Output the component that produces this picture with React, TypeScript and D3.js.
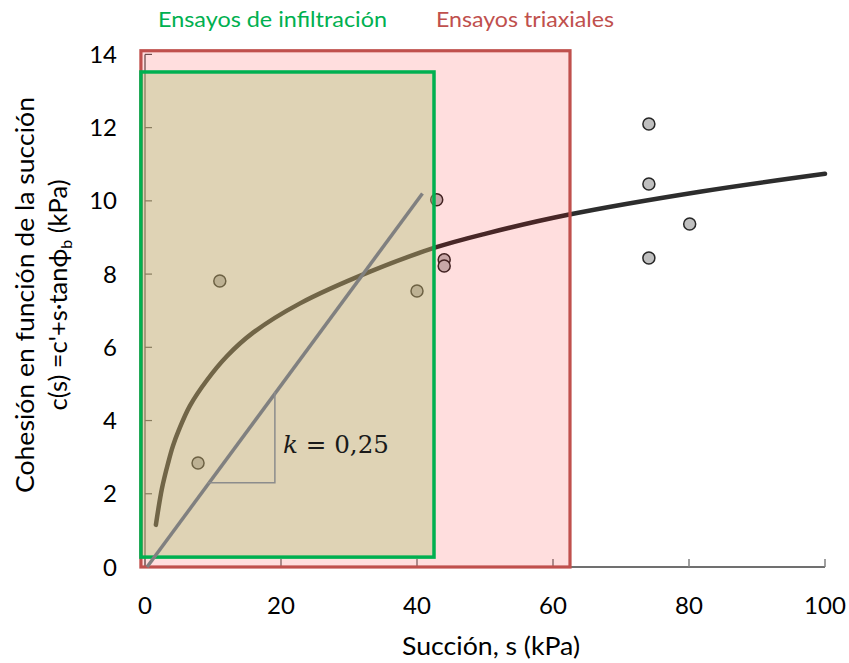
import React, { useEffect, useRef } from "react";
import * as d3 from "d3";

// ---- Data ----
const pointS = [7.8, 11.0, 40.0, 42.9, 44.0, 44.0, 74.1, 74.1, 74.1, 80.1];
const pointC = [2.84, 7.81, 7.54, 10.03, 8.39, 8.22, 12.1, 10.46, 8.44, 9.37];

const curveS = [1.6, 2.5, 3.4, 4.1, 5.0, 6.6, 9.1, 12, 15.9, 22.8, 33, 42.6, 50, 62.2, 81.6, 100];
const curveC = [1.15, 2.15, 2.84, 3.3, 3.75, 4.4, 5.1, 5.75, 6.4, 7.2, 8.06, 8.72, 9.1, 9.62, 10.25, 10.74];

const slopeS = [0.3, 40.8];
const slopeC = [0, 10.2];
const triangleS = [9.2, 19.1, 19.1];
const triangleC = [2.3, 2.3, 4.78];

const redBoxS = [-0.6, 62.5];
const redBoxC = [0, 14.1];
const greenBoxS = [-0.6, 42.5];
const greenBoxC = [0.27, 13.52];

const xTicks = [0, 20, 40, 60, 80, 100];
const yTicks = [0, 2, 4, 6, 8, 10, 12, 14];

const W = 849, H = 663;
const FONT = "Lato, 'Open Sans', sans-serif";

export default function App() {
  const ref = useRef<SVGSVGElement>(null);
  useEffect(() => {
    const svg = d3.select(ref.current);
    svg.selectAll("*").remove();
    const x = d3.scaleLinear().domain([0, 100]).range([145, 825]);
    const y = d3.scaleLinear().domain([0, 14]).range([567, 54.4]);

    // axes lines
    svg.append("line").attr("x1", x(0)).attr("x2", x(0)).attr("y1", y(0)).attr("y2", y(14))
      .attr("stroke", "#595959").attr("stroke-width", 1.3);
    svg.append("line").attr("x1", x(0)).attr("x2", x(100)).attr("y1", y(0)).attr("y2", y(0))
      .attr("stroke", "#404040").attr("stroke-width", 1.5);
    svg.selectAll(".yt").data(yTicks).enter().append("line")
      .attr("x1", x(0)).attr("x2", x(0) + 7).attr("y1", d => y(d)).attr("y2", d => y(d))
      .attr("stroke", "#595959").attr("stroke-width", 1.2);
    svg.selectAll(".xt").data(xTicks).enter().append("line")
      .attr("x1", d => x(d)).attr("x2", d => x(d)).attr("y1", y(0)).attr("y2", y(0) - 8)
      .attr("stroke", "#808080").attr("stroke-width", 1.5);

    // curve
    const curvePts = curveS.map((s, i) => [s, curveC[i]] as [number, number]);
    const line = d3.line<[number, number]>().x(d => x(d[0])).y(d => y(d[1])).curve(d3.curveCatmullRom.alpha(0.5));
    svg.append("path").attr("d", line(curvePts)).attr("fill", "none")
      .attr("stroke", "#2d2d2d").attr("stroke-width", 4.5).attr("stroke-linecap", "round");

    // points
    const pts = pointS.map((s, i) => [s, pointC[i]]);
    svg.selectAll(".pt").data(pts).enter().append("circle")
      .attr("cx", d => x(d[0])).attr("cy", d => y(d[1])).attr("r", 6)
      .attr("fill", "#BFBFBF").attr("stroke", "#262626").attr("stroke-width", 1.5);

    // boxes fills
    svg.append("rect").attr("x", x(redBoxS[0])).attr("y", y(redBoxC[1]))
      .attr("width", x(redBoxS[1]) - x(redBoxS[0])).attr("height", y(redBoxC[0]) - y(redBoxC[1]))
      .attr("fill", "rgb(255,0,0)").attr("fill-opacity", 0.13);
    svg.append("rect").attr("x", x(greenBoxS[0])).attr("y", y(greenBoxC[1]))
      .attr("width", x(greenBoxS[1]) - x(greenBoxS[0])).attr("height", y(greenBoxC[0]) - y(greenBoxC[1]))
      .attr("fill", "rgb(175,194,120)").attr("fill-opacity", 0.4);
    // box strokes
    svg.append("rect").attr("x", x(redBoxS[0])).attr("y", y(redBoxC[1]))
      .attr("width", x(redBoxS[1]) - x(redBoxS[0])).attr("height", y(redBoxC[0]) - y(redBoxC[1]))
      .attr("fill", "none").attr("stroke", "#C0504D").attr("stroke-width", 3.2);
    svg.append("rect").attr("x", x(greenBoxS[0])).attr("y", y(greenBoxC[1]))
      .attr("width", x(greenBoxS[1]) - x(greenBoxS[0])).attr("height", y(greenBoxC[0]) - y(greenBoxC[1]))
      .attr("fill", "none").attr("stroke", "#00B050").attr("stroke-width", 3.5);

    // slope line and triangle
    svg.append("line").attr("x1", x(slopeS[0])).attr("y1", y(slopeC[0]))
      .attr("x2", x(slopeS[1])).attr("y2", y(slopeC[1]))
      .attr("stroke", "#808080").attr("stroke-width", 3.5);
    const tri = triangleS.map((s, i) => [x(s), y(triangleC[i])]);
    svg.append("polyline").attr("points", tri.map(p => p.join(",")).join(" "))
      .attr("fill", "none").attr("stroke", "#8c8c8c").attr("stroke-width", 1.5);
    const kt = svg.append("text").attr("x", 283).attr("y", 453)
      .attr("font-family", "'DejaVu Serif', 'Liberation Serif', serif").attr("font-size", 25)
      .attr("fill", "#1a1a1a").attr("textLength", 106).attr("lengthAdjust", "spacingAndGlyphs");
    kt.append("tspan").attr("font-style", "italic").text("k");
    kt.append("tspan").text(" = 0,25");

    // tick labels
    svg.selectAll(".yl").data(yTicks).enter().append("text")
      .attr("x", 117).attr("y", d => y(d) + 8.5).attr("text-anchor", "end")
      .attr("font-family", FONT).attr("font-size", 24).attr("fill", "#000").text(d => String(d));
    svg.selectAll(".xl").data(xTicks).enter().append("text")
      .attr("x", d => x(d)).attr("y", 614).attr("text-anchor", "middle")
      .attr("font-family", FONT).attr("font-size", 24).attr("fill", "#000").text(d => String(d));

    // axis titles
    svg.append("text").attr("x", 491).attr("y", 655).attr("text-anchor", "middle")
      .attr("font-family", FONT).attr("font-size", 25).attr("fill", "#000")
      .attr("textLength", 178).attr("lengthAdjust", "spacingAndGlyphs").text("Succión, s (kPa)");
    svg.append("text").attr("transform", "translate(34,295) rotate(-90)").attr("text-anchor", "middle")
      .attr("font-family", FONT).attr("font-size", 24.5).attr("fill", "#000")
      .attr("textLength", 396).attr("lengthAdjust", "spacingAndGlyphs")
      .text("Cohesión en función de la succión");
    const t2 = svg.append("text").attr("transform", "translate(67,295) rotate(-90)").attr("text-anchor", "middle")
      .attr("font-family", FONT).attr("font-size", 25.5).attr("fill", "#000");
    t2.append("tspan").text("c(s) =c'+s·tanϕ");
    t2.append("tspan").attr("font-size", 16).attr("dy", 5).text("b");
    t2.append("tspan").attr("dy", -5).text(" (kPa)");

    // box labels
    svg.append("text").attr("x", 158).attr("y", 27).attr("font-family", FONT).attr("font-size", 21)
      .attr("fill", "#00B050").attr("textLength", 229).attr("lengthAdjust", "spacingAndGlyphs")
      .text("Ensayos de infiltración");
    svg.append("text").attr("x", 436).attr("y", 27).attr("font-family", FONT).attr("font-size", 21)
      .attr("fill", "#C0504D").attr("textLength", 178).attr("lengthAdjust", "spacingAndGlyphs")
      .text("Ensayos triaxiales");
  }, []);
  return (
    <svg ref={ref} width={W} height={H}
      style={{ position: "absolute", left: 0, top: 0, background: "#fff" }} />
  );
}
